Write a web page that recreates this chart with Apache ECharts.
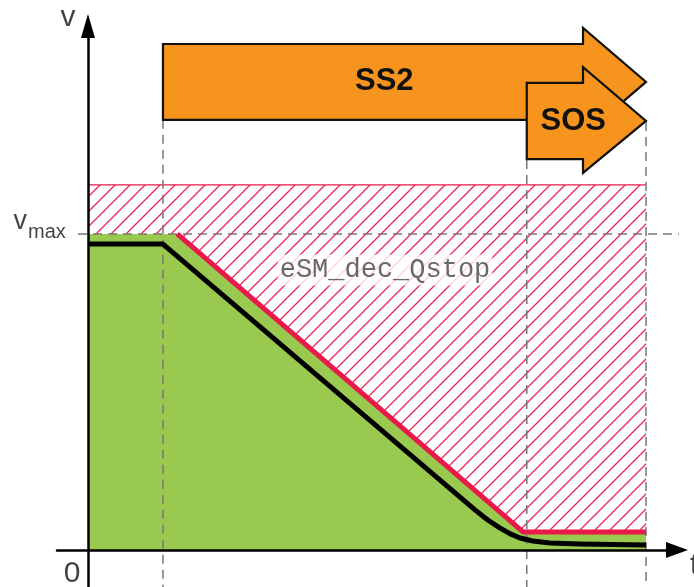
<!DOCTYPE html>
<html><head><meta charset="utf-8">
<script src="https://cdn.jsdelivr.net/npm/echarts@6/dist/echarts.min.js"></script>
<style>html,body{margin:0;padding:0;background:#fff}#c{width:694px;height:587px}</style>
</head><body><div id="c"></div>
<script>
// time in arbitrary units, velocity in % of v_max
const limitT = [0, 11.9, 58.0, 74.4];
const limitV = [100, 100, 5.7, 5.7];
const actualT = [0, 10, 51.6, 53.3, 54.9, 56.3, 57.6, 59.3, 61.6, 65.6, 74.4];
const actualV = [96.8, 96.8, 12.7, 9.5, 7.0, 5.1, 3.8, 2.85, 2.2, 1.9, 1.6];
const hatchTop = 115.5;
const vMax = 100;
const markerT = [10, 58.5, 74.4];
const markerTop = [136.1, 123.4, 135.4];
const phaseNames = ['SS2', 'SOS'];
const phaseStart = [10, 58.5];
const phaseHead = [66, 66];
const phaseTip = [74.4, 74.4];
const phaseBodyLow = [136.1, 123.7];
const phaseBodyHigh = [160.1, 147.8];
const phaseHeadLow = [131.0, 119.3];
const phaseHeadHigh = [165.2, 152.8];
const phaseLabelT = [39.5, 64.7];
const limitName = 'eSM_dec_Qstop';

const X_MIN = -4.13, X_MAX = 78.53, Y_MIN = -11.71, Y_MAX = 165.8;

const limitData = limitT.map((t, i) => [t, limitV[i]]);
const actualData = actualT.map((t, i) => [t, actualV[i]]);

// hatch pattern
const pc = document.createElement('canvas');
pc.width = 15; pc.height = 15;
const g = pc.getContext('2d');
g.strokeStyle = '#ea2558';
g.lineWidth = 1.3;
g.beginPath();
g.moveTo(-2, 17); g.lineTo(17, -2);
g.moveTo(-2, 2); g.lineTo(2, -2);
g.moveTo(13, 17); g.lineTo(17, 13);
g.stroke();

const RED = '#e8194b', GREEN = '#99c94f', ORANGE = '#f7941d';
const dash = { type: [9, 6], color: '#777', width: 1.5 };

const series = [];
series.push({
  type: 'line', data: limitData, symbol: 'none', lineStyle: { width: 0 },
  areaStyle: { color: GREEN, opacity: 1, origin: 'auto' }, animation: false, z: 1
});
series.push({
  type: 'line', data: limitData, symbol: 'none', lineStyle: { width: 0 },
  areaStyle: { color: { image: pc, repeat: 'repeat' }, opacity: 1, origin: hatchTop }, animation: false, z: 1
});
series.push({
  type: 'line', data: [[limitT[0], hatchTop], [limitT[limitT.length - 1], hatchTop]], symbol: 'none',
  lineStyle: { color: RED, width: 1.2 }, animation: false, z: 2
});
markerT.forEach((t, i) => {
  series.push({ type: 'line', data: [[t, markerTop[i]], [t, Y_MIN]], symbol: 'none', lineStyle: dash, clip: false, animation: false, z: 3 });
});
series.push({ type: 'line', data: [[-1.33, vMax], [80.8, vMax]], symbol: 'none', lineStyle: dash, clip: false, animation: false, z: 3 });
series.push({
  type: 'line', data: actualData, symbol: 'none', lineStyle: { color: '#000', width: 5, join: 'round' }, animation: false, z: 4
});
series.push({
  type: 'line', data: limitData.slice(1), symbol: 'none', lineStyle: { color: RED, width: 5 }, animation: false, z: 5
});
series.push({
  type: 'custom', animation: false, z: 6, clip: false,
  data: phaseNames.map((n, i) => [phaseStart[i], phaseHead[i], phaseTip[i], phaseBodyLow[i], phaseBodyHigh[i], phaseHeadLow[i], phaseHeadHigh[i], phaseLabelT[i]]),
  renderItem: (params, api) => {
    const s = api.value(0), h = api.value(1), tip = api.value(2), bl = api.value(3), bh = api.value(4), hl = api.value(5), hh = api.value(6), lt = api.value(7);
    const mid = (bl + bh) / 2;
    const pts = [[s, bl], [s, bh], [h, bh], [h, hh], [tip, mid], [h, hl], [h, bl]].map(p => api.coord(p));
    const lp = api.coord([lt, mid]);
    return {
      type: 'group', children: [
        { type: 'polygon', shape: { points: pts }, style: { fill: ORANGE, stroke: '#111', lineWidth: 2.2, lineJoin: 'miter' } },
        { type: 'text', style: { text: phaseNames[params.dataIndex], x: lp[0], y: lp[1], fill: '#111', fontSize: 31, fontWeight: 'bold', fontFamily: 'Liberation Sans, Arial, sans-serif', align: 'center', verticalAlign: 'middle' } }
      ]
    };
  }
});
const lbl = (t, v, text, size, align, extra) => ({
  value: [t, v],
  label: Object.assign({ show: true, formatter: text, position: 'inside', fontSize: size, fontFamily: 'Liberation Sans, Arial, sans-serif', color: '#111', align: align, verticalAlign: 'middle' }, extra || {})
});
series.push({
  type: 'scatter', symbolSize: 1, itemStyle: { color: 'rgba(0,0,0,0)' }, clip: false, animation: false, z: 7, silent: true,
  data: [
    lbl(-2.67, 168.4, 'v', 30, 'center'),
    lbl(-8.13, 103.8, 'v', 27, 'right'),
    lbl(-8.0, 100.6, 'max', 20, 'left'),
    lbl(-2.13, -7.6, '0', 30, 'center'),
    lbl(80.27, -5.06, 't', 30, 'left'),
    lbl(39.6, 88.6, limitName, 27, 'center', { fontFamily: 'Liberation Mono, monospace', color: '#444', backgroundColor: '#fff', padding: [2, 2] })
  ]
});

const axisCommon = {
  type: 'value', z: 10,
  axisTick: { show: false }, axisLabel: { show: false }, splitLine: { show: false }
};
const chart = echarts.init(document.getElementById('c'), null, { renderer: 'canvas' });
chart.setOption({
  animation: false,
  grid: { left: 57, right: 17, top: 26, bottom: 0, containLabel: false, outerBoundsMode: 'none' },
  xAxis: Object.assign({}, axisCommon, {
    min: X_MIN, max: X_MAX,
    axisLine: { show: true, onZero: true, symbol: ['none', 'triangle'], symbolSize: [16, 22], lineStyle: { color: '#000', width: 2.5 } }
  }),
  yAxis: Object.assign({}, axisCommon, {
    min: Y_MIN, max: Y_MAX,
    axisLine: { show: true, onZero: true, symbol: ['none', 'triangle'], symbolSize: [14, 24], lineStyle: { color: '#000', width: 2.5 } }
  }),
  series: series
});
</script>
</body></html>
